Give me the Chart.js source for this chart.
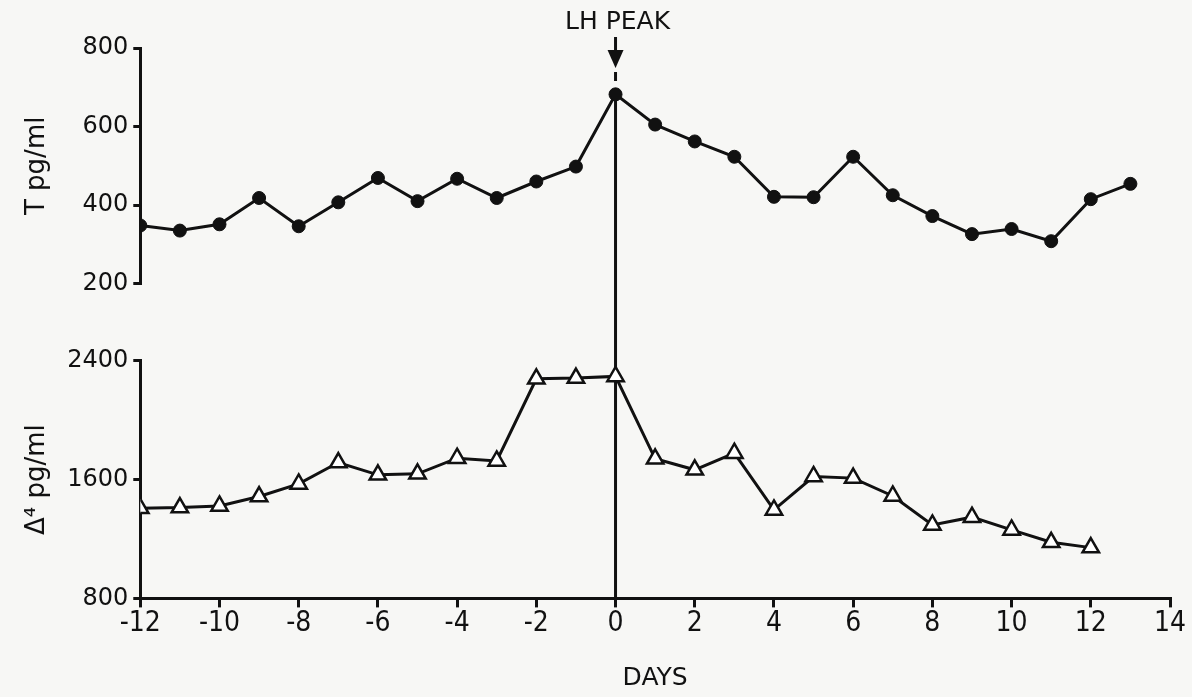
<!DOCTYPE html>
<html>
<head>
<meta charset="utf-8">
<script src="https://cdn.jsdelivr.net/npm/chart.js@4.4.1/dist/chart.umd.min.js"></script>
<style>
  html, body { margin: 0; padding: 0; background: #f7f7f5; }
  #wrap { width: 1192px; height: 697px; position: relative; }
</style>
</head>
<body>
<div id="wrap"><canvas id="chart"></canvas></div>
<script>
// days relative to the LH peak
const daysT = [-12, -11, -10, -9, -8, -7, -6, -5, -4, -3, -2, -1, 0, 1, 2, 3, 4, 5, 6, 7, 8, 9, 10, 11, 12, 13];
const testosterone = [348, 335, 351, 418, 346, 407, 469, 410, 467, 418, 460, 498, 682, 605, 562, 523, 421, 420, 523, 425, 372, 326, 339, 308, 415, 454];

const daysA = [-12, -11, -10, -9, -8, -7, -6, -5, -4, -3, -2, -1, 0, 1, 2, 3, 4, 5, 6, 7, 8, 9, 10, 11, 12];
const androstenedione = [1407, 1412, 1423, 1486, 1571, 1715, 1632, 1639, 1744, 1726, 2279, 2284, 2295, 1740, 1666, 1778, 1396, 1621, 1610, 1490, 1295, 1347, 1261, 1178, 1142];

const peakDay = 0;
const INK = "#111";
const PAPER = "#f7f7f5";

const toPoints = (xs, ys) => xs.map((x, i) => ({ x: x, y: ys[i] }));
const plainNumber = (v) => String(v);

// paper background + LH peak marker
const peakMarker = {
  id: "peakMarker",
  beforeDraw(chart) {
    const ctx = chart.ctx;
    ctx.save();
    ctx.fillStyle = PAPER;
    ctx.fillRect(0, 0, chart.width, chart.height);
    ctx.restore();
  },
  beforeDatasetsDraw(chart) {
    const { ctx, chartArea, scales } = chart;
    const x = scales.x.getPixelForValue(peakDay);
    const yDot = scales.yT.getPixelForValue(testosterone[daysT.indexOf(peakDay)]);
    ctx.save();
    ctx.strokeStyle = INK;
    ctx.fillStyle = INK;
    ctx.lineWidth = 3;
    // vertical line from the peak point down to the axis
    ctx.beginPath();
    ctx.moveTo(x, yDot);
    ctx.lineTo(x, chartArea.bottom);
    ctx.stroke();
    // dash above the point
    ctx.beginPath();
    ctx.moveTo(x, chartArea.top + 24);
    ctx.lineTo(x, chartArea.top + 33);
    ctx.stroke();
    // arrow
    ctx.beginPath();
    ctx.moveTo(x, chartArea.top - 11);
    ctx.lineTo(x, chartArea.top + 4);
    ctx.stroke();
    ctx.beginPath();
    ctx.moveTo(x - 8, chartArea.top + 2);
    ctx.lineTo(x + 8, chartArea.top + 2);
    ctx.lineTo(x, chartArea.top + 20);
    ctx.closePath();
    ctx.fill();
    // label
    ctx.font = "25px 'DejaVu Sans'";
    ctx.textAlign = "center";
    ctx.textBaseline = "middle";
    ctx.fillText("LH PEAK", x + 2, chartArea.top - 26);
    ctx.restore();
  },
};

const tickFont = { family: "'DejaVu Sans'", size: 24 };
const axisBase = {
  border: { color: INK, width: 3 },
  grid: { drawOnChartArea: false, color: INK, lineWidth: 3, tickLength: 7 },
  ticks: { color: INK, font: tickFont, padding: 5, callback: plainNumber },
};
const yTitle = (text) => ({
  display: true,
  text: text,
  color: INK,
  font: { family: "'DejaVu Sans'", size: 26 },
  padding: { top: 0, bottom: 9 },
});

new Chart(document.getElementById("chart"), {
  type: "line",
  data: {
    datasets: [
      {
        label: "T pg/ml",
        data: toPoints(daysT, testosterone),
        yAxisID: "yT",
        borderColor: INK,
        borderWidth: 3,
        pointStyle: "circle",
        pointRadius: 6.5,
        pointBackgroundColor: INK,
        pointBorderColor: INK,
        pointBorderWidth: 1,
        tension: 0,
      },
      {
        label: "Δ4 pg/ml",
        data: toPoints(daysA, androstenedione),
        yAxisID: "yA",
        borderColor: INK,
        borderWidth: 3,
        pointStyle: "triangle",
        pointRadius: 9.5,
        pointBackgroundColor: "#fff",
        pointBorderColor: INK,
        pointBorderWidth: 2.5,
        tension: 0,
      },
    ],
  },
  options: {
    responsive: true,
    maintainAspectRatio: false,
    animation: false,
    layout: { padding: { left: 22, right: 22, top: 48, bottom: 4 } },
    plugins: { legend: { display: false }, tooltip: { enabled: false } },
    scales: {
      x: {
        type: "linear",
        min: -12,
        max: 14,
        ...axisBase,
        grid: { ...axisBase.grid, tickLength: 9 },
        ticks: {
          color: INK,
          stepSize: 2,
          padding: 0,
          maxRotation: 0,
          callback: plainNumber,
          font: { family: "'DejaVu Sans Condensed', Roboto", size: 28 },
        },
        title: {
          display: true,
          text: "DAYS",
          color: INK,
          font: { family: "'DejaVu Sans'", size: 25 },
          padding: { top: 22, bottom: 0 },
        },
      },
      yA: {
        type: "linear",
        position: "left",
        stack: "panels",
        stackWeight: 237,
        min: 800,
        max: 2400,
        ...axisBase,
        ticks: { ...axisBase.ticks, stepSize: 800 },
        title: yTitle("Δ⁴ pg/ml"),
      },
      yGap: {
        type: "linear",
        position: "left",
        stack: "panels",
        stackWeight: 77,
        min: 0,
        max: 1,
        border: { display: false },
        grid: { display: false },
        ticks: { display: false },
      },
      yT: {
        type: "linear",
        position: "left",
        stack: "panels",
        stackWeight: 235,
        min: 200,
        max: 800,
        ...axisBase,
        ticks: { ...axisBase.ticks, stepSize: 200 },
        title: yTitle("T pg/ml"),
      },
    },
  },
  plugins: [peakMarker],
});
</script>
</body>
</html>
